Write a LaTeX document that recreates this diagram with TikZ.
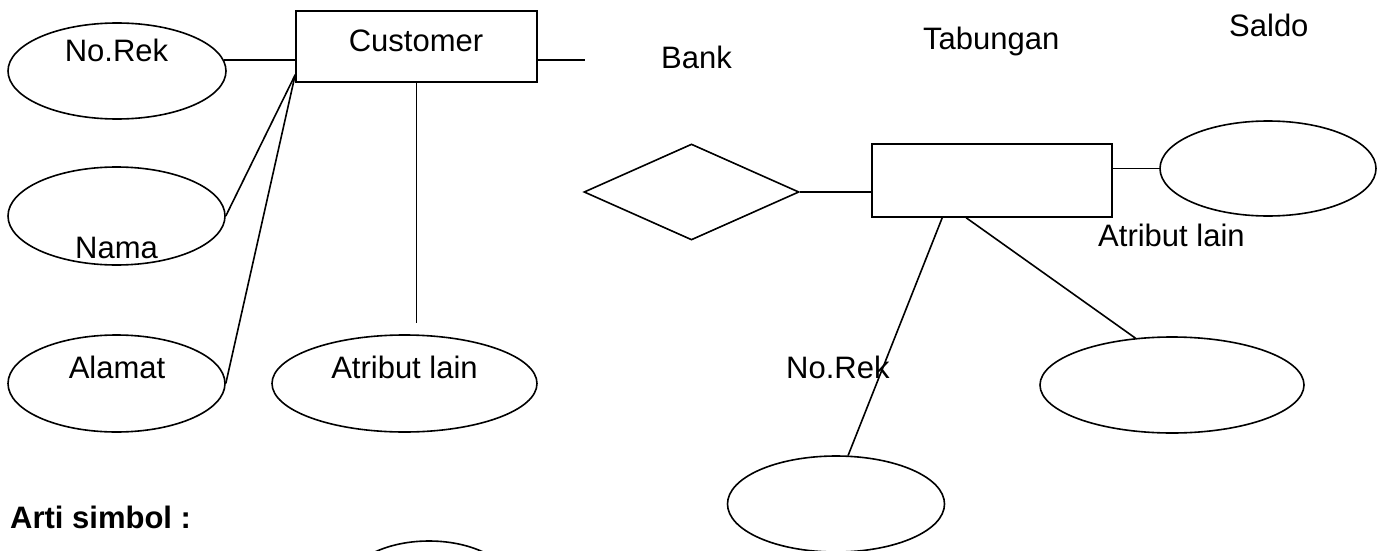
\documentclass[tikz,border=0pt]{standalone}
\usepackage{fontspec}
\setmainfont{Liberation Sans}
\usetikzlibrary{shapes.geometric,calc}
\tikzset{
  ln/.style={line width=1.6pt,line cap=butt},
  ell/.style={ellipse,draw,ln,inner sep=0pt,minimum width=#1},
  ent/.style={rectangle,draw,ln,inner sep=0pt},
  rel/.style={diamond,draw,ln,inner sep=0pt,aspect=1},
  txt/.style={inner sep=0pt,font=\fontsize{31}{37}\selectfont}
}
\begin{document}
\begin{tikzpicture}[x=1pt,y=-1pt]
\useasboundingbox (0,0) rectangle (1381,551);
\clip (0,0) rectangle (1381,551);
% left entity and attributes
\node[ent,minimum width=241pt,minimum height=71pt] (cust) at (416.5,46.5) {};
\node[ell=218pt,minimum height=96pt] (nrek) at (117,71) {};
\node[ell=217pt,minimum height=98pt] (nama) at (116.5,216) {};
\node[ell=217pt,minimum height=97pt] (alamat) at (116.5,383.5) {};
\node[ell=265pt,minimum height=97pt] (atr1) at (404.5,383.5) {};
\node[ell=170pt,minimum height=96pt] (sym) at (429,589) {};
% right part
\node[rel,minimum width=215pt,minimum height=96pt] (dia) at (691.5,192) {};
\node[ent,minimum width=240pt,minimum height=73pt] (tab) at (992,180.5) {};
\node[ell=216pt,minimum height=95pt] (saldo) at (1268,168.5) {};
\node[ell=264pt,minimum height=96pt] (atr2) at (1172,385) {};
\node[ell=217pt,minimum height=96pt] (nrek2) at (836,504) {};
% texts
\node[txt,anchor=base] (tNrek) at (116.5,62) {No.Rek};
\node[txt,anchor=base] (tCust) at (416,52) {Customer};
\node[txt,anchor=base] (tNama) at (116.5,258) {Nama};
\node[txt,anchor=base] (tAlamat) at (117,378) {Alamat};
\node[txt,anchor=base] (tAtr1) at (404.5,378) {Atribut lain};
\node[txt,anchor=base west,font=\fontsize{31}{37}\selectfont\bfseries] (tArti) at (10,528) {Arti simbol :};
\node[txt,anchor=base west] (tBank) at (661,69) {Bank};
\node[txt,anchor=base west] (tTab) at (923,50) {Tabungan};
\node[txt,anchor=base west] (tSaldo) at (1229,37) {Saldo};
\node[txt,anchor=base west] (tAtr2) at (1098,246) {Atribut lain};
\node[txt,anchor=base west] (tNrek2) at (786,378) {No.Rek};
% connectors
\coordinate (cl) at ($(cust.south west)+(0,-8)$);
\draw[ln] (nrek.6.5) -- (nrek.6.5 -| cust.west);
\draw[ln] (nama.east) -- (cl);
\draw[ln] (alamat.east) -- (cl);
\draw[ln] (cust.south) -- ++(0,240);
\draw[ln] (nrek.6.5 -| cust.east) -- ++(47,0);
\draw[ln] (dia.east) -- (dia.east -| tab.west);
\draw[ln] (saldo.west -| tab.east) -- (saldo.west);
\draw[ln] ($(tab.south west)+(71,0)$) -- (nrek2.76);
\draw[ln] ($(tab.south west)+(95,0)$) -- (atr2.128);
\end{tikzpicture}
\end{document}
